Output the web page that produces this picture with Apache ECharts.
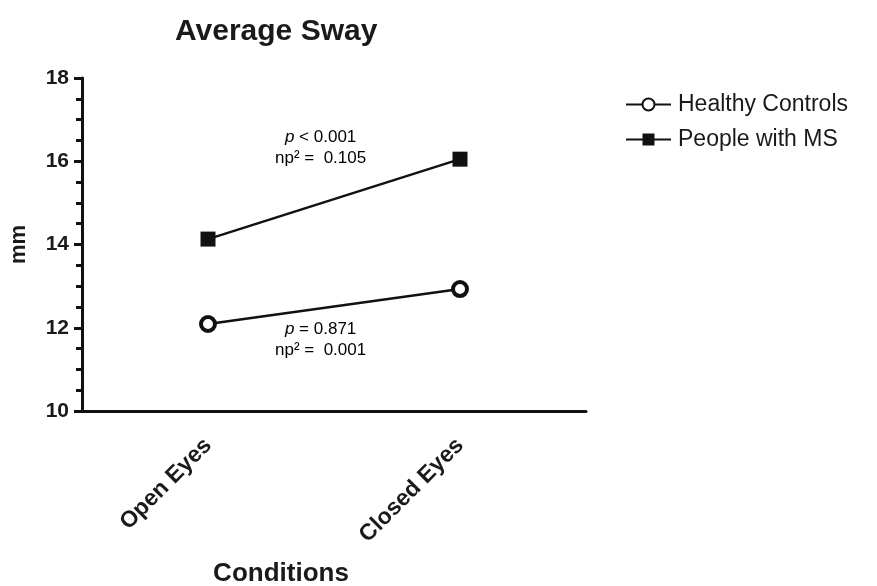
<!DOCTYPE html>
<html><head><meta charset="utf-8">
<script src="https://cdn.jsdelivr.net/npm/echarts@6/dist/echarts.min.js"></script>
<style>html,body{margin:0;padding:0;background:#fff}#c{width:877px;height:586px}</style>
</head><body><div id="c"></div>
<script>
var categories = ['Open Eyes', 'Closed Eyes'];
var healthyControls = [12.09, 12.93];
var peopleWithMS = [14.13, 16.05];
var yTicks = [10, 12, 14, 16, 18];
var annotTop = ['p', ' < 0.001', 'np\u00b2 =  0.105'];
var annotBottom = ['p', ' = 0.871', 'np\u00b2 =  0.001'];

var chart = echarts.init(document.getElementById('c'));
var F = 'Arial, "Liberation Sans", sans-serif';
var rich = {
  it: {fontStyle: 'italic', fontSize: 17, color: '#333', fontFamily: F},
  n: {fontSize: 17, color: '#333', fontFamily: F}
};
function ann(a, x, y) {
  return {
    type: 'text', left: x, top: y,
    style: {
      text: '{it|' + a[0] + '}{n|' + a[1] + '}\n{n|' + a[2] + '}',
      rich: rich, textAlign: 'center', lineHeight: 21, font: '17px ' + F
    }
  };
}
chart.setOption({
  backgroundColor: '#fff',
  animation: false,
  title: {text: 'Average Sway', left: 170, top: 12,
    textStyle: {fontSize: 30, fontWeight: 'bold', color: '#1a1a1a', fontFamily: F}},
  legend: {
    orient: 'vertical', left: 620, top: 88, itemGap: 12,
    itemWidth: 45, itemHeight: 15,
    textStyle: {fontSize: 23, color: '#1a1a1a', fontFamily: F, padding: [0, 0, 0, 2]},
    data: ['Healthy Controls', 'People with MS']
  },
  grid: {left: 82, right: 291, top: 78, bottom: 175, containLabel: false, outerBoundsMode: 'none'},
  xAxis: {
    type: 'category', data: categories, boundaryGap: true,
    name: 'Conditions', nameLocation: 'middle', nameGap: 150,
    nameTextStyle: {fontSize: 26, fontWeight: 'bold', color: '#1a1a1a', fontFamily: F, padding: [0, 106, 0, 0]},
    axisLine: {lineStyle: {color: '#111', width: 3}},
    axisTick: {alignWithLabel: true, length: 7, lineStyle: {width: 3, color: '#111'}},
    axisLabel: {rotate: 45, fontSize: 23, fontWeight: 'bold', color: '#1a1a1a', margin: 31, fontFamily: F}
  },
  yAxis: {
    type: 'value', min: yTicks[0], max: yTicks[yTicks.length - 1], interval: 2,
    name: 'mm', nameLocation: 'middle', nameGap: 52, nameRotate: 90,
    nameTextStyle: {fontSize: 22, fontWeight: 'bold', color: '#1a1a1a', fontFamily: F},
    axisLine: {show: true, lineStyle: {color: '#111', width: 3}},
    axisTick: {show: true, length: 8, lineStyle: {width: 3, color: '#111'}},
    minorTick: {show: true, splitNumber: 4, length: 6, lineStyle: {width: 3, color: '#111'}},
    splitLine: {show: false},
    axisLabel: {fontSize: 21, fontWeight: 'bold', color: '#1a1a1a', margin: 13, fontFamily: F}
  },
  series: [
    {name: 'Healthy Controls', type: 'line', data: healthyControls,
     symbol: 'circle', symbolSize: 14,
     lineStyle: {color: '#111', width: 2.5},
     itemStyle: {color: '#fff', borderColor: '#111', borderWidth: 4}},
    {name: 'People with MS', type: 'line', data: peopleWithMS,
     symbol: 'rect', symbolSize: 15,
     lineStyle: {color: '#111', width: 2.5},
     itemStyle: {color: '#111', borderColor: '#111', borderWidth: 0}}
  ],
  graphic: [ann(annotTop, 275, 127), ann(annotBottom, 275, 319)]
});
</script></body></html>
